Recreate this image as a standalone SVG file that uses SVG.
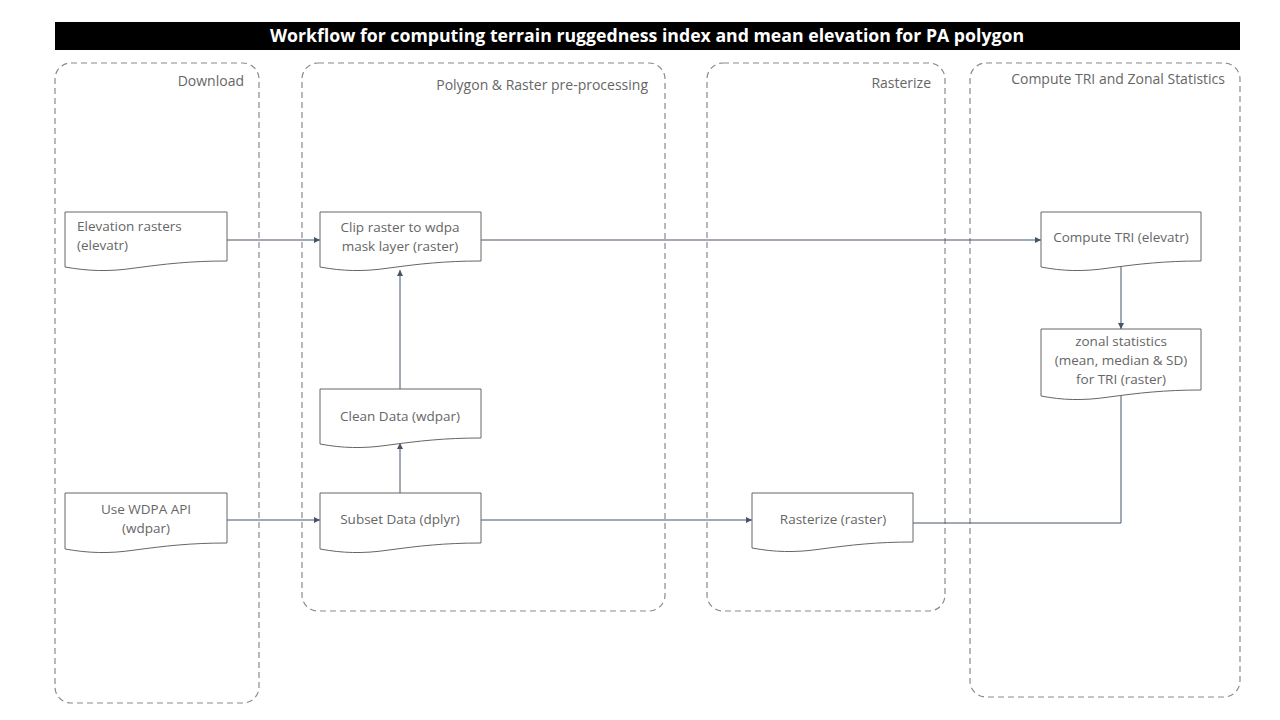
<svg xmlns="http://www.w3.org/2000/svg" width="1280" height="720" viewBox="0 0 1280 720">
<defs>
<style>
.lane{fill:none;stroke:#8a8a8a;stroke-width:1.2;stroke-dasharray:6 4}
.lt{font-family:"Open Sans","Liberation Sans",sans-serif;font-size:14px;fill:#666;text-anchor:end}
.doc{fill:#fff;stroke:#666;stroke-width:1}
.t{font-family:"Open Sans","Liberation Sans",sans-serif;font-size:13.5px;fill:#666;text-anchor:middle}
.c{fill:none;stroke:#44546a;stroke-width:1}
</style>
<marker id="ah" markerWidth="8" markerHeight="8" refX="6" refY="3" orient="auto" markerUnits="userSpaceOnUse">
<path d="M0,0 L6,3 L0,6 Z" fill="#44546a"/>
</marker>
</defs>
<rect width="1280" height="720" fill="#fff"/>
<g id="title">
<rect x="55" y="22" width="1185" height="28" fill="#000"/>
<text x="647" y="42" font-family="'Open Sans','Liberation Sans',sans-serif" font-size="17.7" font-weight="bold" fill="#fff" text-anchor="middle">Workflow for computing terrain ruggedness index and mean elevation for PA polygon</text>
</g>
<g id="lane-download">
<rect class="lane" x="55" y="63" width="204" height="640" rx="16"/>
<text class="lt" x="244" y="86">Download</text>
</g>
<g id="lane-preprocessing">
<rect class="lane" x="302" y="63" width="363" height="548" rx="16"/>
<text class="lt" x="648" y="90">Polygon &amp; Raster pre-processing</text>
</g>
<g id="lane-rasterize">
<rect class="lane" x="707" y="63" width="238" height="548" rx="16"/>
<text class="lt" x="931" y="88">Rasterize</text>
</g>
<g id="lane-compute">
<rect class="lane" x="970" y="63" width="270" height="634" rx="16"/>
<text class="lt" x="1225" y="84">Compute TRI and Zonal Statistics</text>
</g>
<g id="connectors">
<path class="c" d="M227,240 H320" marker-end="url(#ah)"/>
<path class="c" d="M481,240 H1041" marker-end="url(#ah)"/>
<path class="c" d="M400,389 V270" marker-end="url(#ah)"/>
<path class="c" d="M400,493 V443" marker-end="url(#ah)"/>
<path class="c" d="M227,520 H320" marker-end="url(#ah)"/>
<path class="c" d="M481,520 H752" marker-end="url(#ah)"/>
<path class="c" d="M913,523 H1121 V394"/>
<path class="c" d="M1121,264 V329" marker-end="url(#ah)"/>
</g>
<g id="elevation-rasters">
<path class="doc" d="M65,212 H227 V261 C190,261 165,264 135,268 C108,272 88,271 65,267 Z"/>
<text class="t" x="77" y="231" style="text-anchor:start">Elevation rasters</text>
<text class="t" x="77" y="250" style="text-anchor:start">(elevatr)</text>
</g>
<g id="clip-raster">
<path class="doc" d="M320,212 H481 V261 C444,261 419,264 389,268 C362,272 342,271 320,267 Z"/>
<text class="t" x="400" y="232">Clip raster to wdpa</text>
<text class="t" x="400" y="251">mask layer (raster)</text>
</g>
<g id="clean-data">
<path class="doc" d="M320,389 H481 V438 C444,438 419,441 389,445 C362,449 342,448 320,444 Z"/>
<text class="t" x="400" y="421">Clean Data (wdpar)</text>
</g>
<g id="use-wdpa">
<path class="doc" d="M65,493 H227 V543 C190,543 165,546 135,550 C108,554 88,553 65,549 Z"/>
<text class="t" x="146" y="514">Use WDPA API</text>
<text class="t" x="146" y="533">(wdpar)</text>
</g>
<g id="subset-data">
<path class="doc" d="M320,493 H481 V543 C444,543 419,546 389,550 C362,554 342,553 320,549 Z"/>
<text class="t" x="400" y="524">Subset Data (dplyr)</text>
</g>
<g id="rasterize-raster">
<path class="doc" d="M752,493 H913 V542 C876,542 851,545 821,549 C794,553 774,552 752,548 Z"/>
<text class="t" x="833" y="524">Rasterize (raster)</text>
</g>
<g id="compute-tri">
<path class="doc" d="M1041,212 H1201 V261 C1164,261 1139,264 1109,268 C1082,272 1062,271 1041,267 Z"/>
<text class="t" x="1121" y="242">Compute TRI (elevatr)</text>
</g>
<g id="zonal-stats">
<path class="doc" d="M1041,329 H1201 V390 C1164,390 1139,393 1109,397 C1082,401 1062,400 1041,396 Z"/>
<text class="t" x="1121" y="346">zonal statistics</text>
<text class="t" x="1121" y="365">(mean, median &amp; SD)</text>
<text class="t" x="1121" y="384">for TRI (raster)</text>
</g>
</svg>
